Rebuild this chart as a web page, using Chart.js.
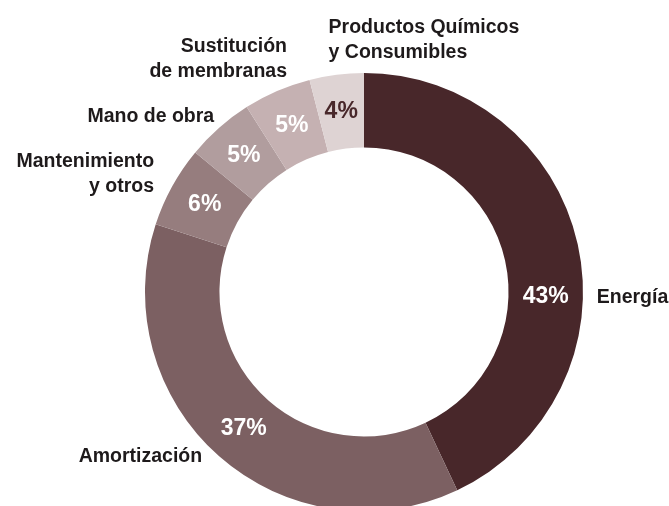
<!DOCTYPE html>
<html>
<head>
<meta charset="utf-8">
<script src="https://cdn.jsdelivr.net/npm/chart.js@4.4.1/dist/chart.umd.min.js"></script>
<style>
  html, body { margin: 0; padding: 0; background: #fff; overflow: hidden; }
  canvas { display: block; }
</style>
</head>
<body>
<canvas id="costChart" width="669" height="520"></canvas>
<script>
// cost breakdown, percent
const categories = [
  ['Energía'],
  ['Amortización'],
  ['Mantenimiento', 'y otros'],
  ['Mano de obra'],
  ['Sustitución', 'de membranas'],
  ['Productos Químicos', 'y Consumibles'],
];
const shares = [43, 37, 6, 5, 5, 4];
const sliceColors = ['#48272a', '#7c6062', '#967d7e', '#b19d9e', '#c5b1b2', '#ded3d3'];
const pctColors = ['#fff', '#fff', '#fff', '#fff', '#fff', '#48272a'];

// where the category names sit, relative to the outer edge of each slice
const nameAlign = ['left', 'right', 'right', 'right', 'right', 'left'];
const nameOffset = [[19, 59], [-17, 6], [-18, -19], [-5, -6], [10, -39], [-8, -42]];
// the 43% label is pulled down to the horizontal
const pctShift = [14.2, 0, 0, 0, 0, 0];

const sliceLabels = {
  id: 'sliceLabels',
  afterDatasetsDraw(chart) {
    const ctx = chart.ctx;
    const arcs = chart.getDatasetMeta(0).data;
    ctx.save();
    arcs.forEach((arc, i) => {
      const { x, y, startAngle, endAngle, innerRadius, outerRadius } = arc.getProps(
        ['x', 'y', 'startAngle', 'endAngle', 'innerRadius', 'outerRadius'], true);
      const mid = (startAngle + endAngle) / 2;

      // percent inside the ring
      const a = mid + pctShift[i] * Math.PI / 180;
      const r = (innerRadius + outerRadius) / 2;
      ctx.font = 'bold 23px "Liberation Sans", Arial, sans-serif';
      ctx.fillStyle = pctColors[i];
      ctx.textAlign = 'center';
      ctx.textBaseline = 'middle';
      ctx.fillText(shares[i] + '%', x + Math.cos(a) * r, y + Math.sin(a) * r);

      // category name outside
      const bx = x + Math.cos(mid) * outerRadius + nameOffset[i][0];
      const by = y + Math.sin(mid) * outerRadius + nameOffset[i][1];
      ctx.font = 'bold 19.5px "Liberation Sans", Arial, sans-serif';
      ctx.fillStyle = '#1e1a1b';
      ctx.textAlign = nameAlign[i];
      ctx.textBaseline = 'alphabetic';
      categories[i].forEach((line, k) => ctx.fillText(line, bx, by + k * 25));
    });
    ctx.restore();
  },
};

const ctx = document.getElementById('costChart').getContext('2d');
new Chart(ctx, {
  type: 'doughnut',
  data: {
    labels: categories.map(c => c.join(' ')),
    datasets: [{
      data: shares,
      backgroundColor: sliceColors,
      borderWidth: 0,
    }],
  },
  options: {
    responsive: false,
    animation: false,
    cutout: '66%',
    layout: { padding: { left: 145, right: 86, top: 73, bottom: 9 } },
    plugins: {
      legend: { display: false },
      tooltip: { enabled: false },
    },
  },
  plugins: [sliceLabels],
});
</script>
</body>
</html>
